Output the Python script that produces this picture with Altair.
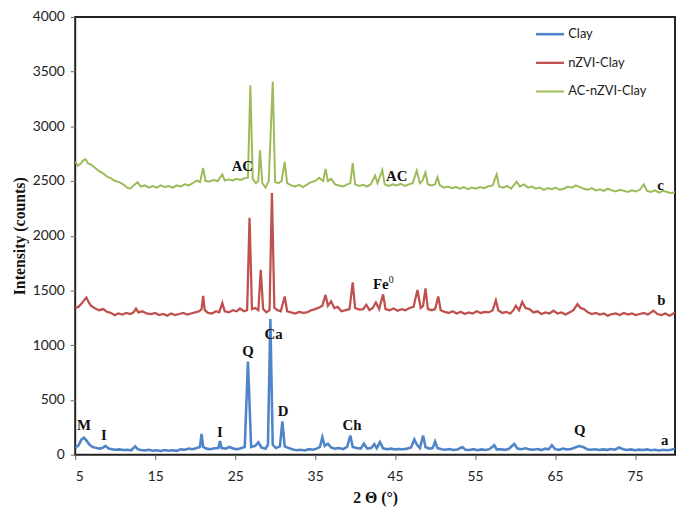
import altair as alt
import pandas as pd

series_names = ["Clay", "nZVI-Clay", "AC-nZVI-Clay"]
series_colors = ["#4f85c8", "#c0504d", "#9bbb59"]

clay_points = [
    (5.0, 60), (5.4, 85), (5.8, 140), (6.1, 155), (6.4, 130), (6.8, 90), (7.2, 70), (7.6, 62),
    (8.0, 55), (8.4, 60), (8.8, 80), (9.2, 55), (9.6, 50), (10.0, 45), (10.5, 48), (11.0, 42),
    (11.5, 45), (12.0, 40), (12.5, 75), (12.8, 50), (13.2, 42), (13.7, 38), (14.2, 44), (14.7, 36),
    (15.2, 40), (15.7, 34), (16.2, 42), (16.7, 36), (17.2, 40), (17.7, 35), (18.2, 48), (18.7, 45),
    (19.2, 55), (19.7, 50), (20.2, 60), (20.6, 70), (20.8, 190), (21.0, 70), (21.4, 55), (21.9, 50),
    (22.4, 58), (22.9, 60), (23.1, 125), (23.3, 60), (23.8, 55), (24.3, 70), (24.8, 55), (25.3, 50),
    (25.8, 60), (26.2, 70), (26.6, 850), (27.0, 70), (27.5, 80), (27.9, 112), (28.3, 65), (28.8, 55),
    (29.1, 90), (29.4, 1240), (29.7, 90), (30.1, 60), (30.6, 75), (30.9, 305), (31.2, 75), (31.7, 60),
    (32.2, 48), (32.7, 40), (33.2, 45), (33.7, 38), (34.2, 50), (34.7, 45), (35.2, 55), (35.6, 70),
    (35.9, 160), (36.2, 80), (36.6, 100), (37.0, 65), (37.5, 55), (38.0, 60), (38.5, 50), (39.0, 70),
    (39.4, 175), (39.7, 70), (40.2, 60), (40.7, 55), (41.1, 100), (41.5, 55), (42.0, 60), (42.4, 95),
    (42.7, 60), (43.1, 115), (43.5, 58), (44.0, 50), (44.5, 55), (45.0, 48), (45.5, 52), (46.0, 50),
    (46.5, 55), (47.0, 65), (47.4, 140), (47.7, 95), (48.1, 60), (48.5, 175), (48.8, 70), (49.3, 55),
    (49.7, 60), (50.0, 120), (50.3, 60), (50.8, 50), (51.3, 45), (51.8, 52), (52.3, 42), (52.8, 48),
    (53.4, 70), (53.8, 45), (54.3, 42), (54.8, 50), (55.3, 40), (55.8, 48), (56.3, 42), (56.8, 50),
    (57.4, 86), (57.7, 48), (58.2, 50), (58.7, 44), (59.2, 52), (59.9, 98), (60.3, 55), (60.8, 50),
    (61.3, 58), (61.8, 48), (62.3, 45), (62.8, 52), (63.3, 42), (63.8, 55), (64.2, 48), (64.6, 86),
    (65.0, 50), (65.5, 44), (66.0, 55), (66.5, 48), (67.0, 52), (67.5, 65), (68.0, 78), (68.5, 70),
    (69.0, 50), (69.5, 45), (70.0, 50), (70.5, 42), (71.0, 48), (71.5, 44), (72.0, 52), (72.5, 45),
    (73.0, 65), (73.5, 50), (74.0, 42), (74.5, 48), (75.0, 40), (75.5, 46), (76.0, 42), (76.5, 48),
    (77.0, 40), (77.5, 45), (78.0, 38), (78.5, 44), (79.0, 40), (79.5, 45), (80.0, 55),
]

nzvi_points = [
    (5.0, 1340), (5.4, 1350), (5.8, 1380), (6.1, 1410), (6.4, 1435), (6.7, 1390), (7.0, 1360), (7.5, 1335),
    (8.0, 1320), (8.5, 1330), (9.0, 1305), (9.5, 1295), (9.9, 1275), (10.4, 1290), (10.9, 1280), (11.4, 1295),
    (11.9, 1285), (12.3, 1300), (12.6, 1335), (12.9, 1300), (13.4, 1310), (13.9, 1290), (14.5, 1285), (15.0, 1295),
    (15.5, 1275), (16.0, 1285), (16.5, 1270), (17.0, 1290), (17.5, 1275), (18.0, 1285), (18.5, 1295), (19.0, 1280),
    (19.5, 1290), (20.0, 1300), (20.5, 1310), (20.8, 1330), (21.0, 1450), (21.2, 1320), (21.6, 1295), (22.1, 1290),
    (22.6, 1310), (23.0, 1300), (23.4, 1385), (23.7, 1310), (24.2, 1300), (24.7, 1320), (25.2, 1310), (25.6, 1335),
    (26.1, 1310), (26.5, 1320), (26.8, 2165), (27.1, 1330), (27.5, 1340), (27.9, 1320), (28.2, 1690), (28.5, 1330),
    (28.9, 1300), (29.3, 1320), (29.6, 2390), (29.9, 1340), (30.3, 1320), (30.7, 1310), (31.2, 1445), (31.5, 1310),
    (32.0, 1300), (32.5, 1290), (33.0, 1305), (33.5, 1295), (34.0, 1300), (34.5, 1320), (35.0, 1330), (35.5, 1345),
    (35.9, 1360), (36.3, 1460), (36.6, 1360), (37.0, 1400), (37.4, 1340), (37.8, 1350), (38.3, 1310), (38.8, 1320),
    (39.3, 1330), (39.7, 1575), (40.0, 1340), (40.5, 1325), (41.0, 1330), (41.4, 1370), (41.8, 1320), (42.2, 1340),
    (42.6, 1390), (43.0, 1330), (43.5, 1465), (43.8, 1330), (44.3, 1320), (44.8, 1335), (45.3, 1315), (45.8, 1330),
    (46.3, 1320), (46.8, 1340), (47.3, 1350), (47.8, 1505), (48.2, 1340), (48.5, 1360), (48.8, 1520), (49.1, 1330),
    (49.6, 1320), (50.0, 1330), (50.4, 1445), (50.7, 1320), (51.2, 1305), (51.7, 1295), (52.2, 1310), (52.7, 1290),
    (53.2, 1305), (53.7, 1285), (54.2, 1300), (54.7, 1290), (55.2, 1310), (55.7, 1295), (56.2, 1305), (56.7, 1300),
    (57.2, 1320), (57.6, 1410), (57.9, 1320), (58.4, 1295), (58.9, 1305), (59.4, 1290), (59.8, 1320), (60.1, 1360),
    (60.5, 1320), (60.9, 1395), (61.3, 1340), (61.8, 1330), (62.3, 1300), (62.8, 1310), (63.3, 1285), (63.8, 1300),
    (64.3, 1290), (64.8, 1315), (65.3, 1290), (65.8, 1300), (66.3, 1280), (66.8, 1300), (67.3, 1320), (67.8, 1375),
    (68.2, 1340), (68.6, 1330), (69.1, 1300), (69.6, 1285), (70.1, 1295), (70.6, 1280), (71.1, 1290), (71.6, 1270),
    (72.1, 1285), (72.6, 1290), (73.1, 1275), (73.6, 1295), (74.1, 1280), (74.6, 1290), (75.1, 1275), (75.6, 1285),
    (76.1, 1295), (76.6, 1280), (77.3, 1315), (77.8, 1285), (78.3, 1275), (78.8, 1290), (79.3, 1270), (79.7, 1285),
    (80.0, 1300),
]

ac_points = [
    (5.0, 2680), (5.3, 2640), (5.7, 2660), (6.0, 2690), (6.3, 2700), (6.6, 2660), (7.0, 2650), (7.5, 2620),
    (8.0, 2590), (8.5, 2570), (9.0, 2540), (9.5, 2525), (10.0, 2500), (10.5, 2490), (11.0, 2470), (11.5, 2440),
    (11.9, 2430), (12.3, 2460), (12.8, 2490), (13.2, 2450), (13.7, 2460), (14.2, 2440), (14.7, 2455), (15.2, 2440),
    (15.7, 2460), (16.2, 2445), (16.7, 2455), (17.2, 2440), (17.7, 2460), (18.2, 2450), (18.7, 2470), (19.2, 2460),
    (19.7, 2480), (20.2, 2505), (20.6, 2490), (21.0, 2620), (21.3, 2500), (21.8, 2495), (22.3, 2510), (22.8, 2500),
    (23.4, 2560), (23.7, 2505), (24.2, 2515), (24.7, 2505), (25.2, 2520), (25.7, 2510), (26.2, 2525), (26.6, 2530),
    (26.9, 3375), (27.2, 2520), (27.6, 2480), (27.9, 2500), (28.1, 2780), (28.4, 2480), (28.8, 2440), (29.2, 2500),
    (29.7, 3410), (30.0, 2490), (30.4, 2480), (30.8, 2500), (31.2, 2675), (31.5, 2480), (32.0, 2460), (32.5, 2450),
    (33.0, 2465), (33.5, 2445), (34.0, 2470), (34.5, 2490), (35.0, 2500), (35.5, 2530), (36.0, 2500), (36.3, 2610),
    (36.6, 2500), (37.0, 2520), (37.5, 2470), (38.0, 2460), (38.5, 2450), (39.0, 2470), (39.4, 2480), (39.7, 2665),
    (40.0, 2470), (40.5, 2455), (41.0, 2465), (41.5, 2450), (42.0, 2475), (42.5, 2550), (42.8, 2480), (43.4, 2600),
    (43.7, 2470), (44.2, 2455), (44.7, 2470), (45.2, 2460), (45.7, 2475), (46.2, 2455), (46.7, 2470), (47.2, 2480),
    (47.7, 2595), (48.1, 2480), (48.4, 2500), (48.8, 2580), (49.1, 2470), (49.6, 2460), (50.0, 2470), (50.3, 2535),
    (50.6, 2460), (51.1, 2440), (51.6, 2450), (52.1, 2435), (52.6, 2445), (53.1, 2430), (53.6, 2445), (54.1, 2425),
    (54.6, 2440), (55.1, 2430), (55.6, 2445), (56.1, 2435), (56.6, 2450), (57.2, 2460), (57.7, 2560), (58.0, 2450),
    (58.5, 2440), (59.0, 2455), (59.5, 2430), (60.2, 2495), (60.6, 2450), (61.1, 2470), (61.6, 2440), (62.1, 2450),
    (62.6, 2430), (63.1, 2440), (63.6, 2420), (64.1, 2435), (64.6, 2425), (65.1, 2440), (65.6, 2420), (66.1, 2430),
    (66.6, 2450), (67.1, 2440), (67.6, 2460), (68.1, 2445), (68.6, 2430), (69.1, 2420), (69.6, 2435), (70.1, 2415),
    (70.6, 2425), (71.1, 2410), (71.6, 2430), (72.1, 2415), (72.6, 2405), (73.1, 2420), (73.6, 2410), (74.1, 2400),
    (74.6, 2415), (75.1, 2405), (75.6, 2420), (76.1, 2470), (76.5, 2410), (77.0, 2400), (77.5, 2415), (78.0, 2395),
    (78.5, 2410), (79.0, 2400), (79.5, 2390), (80.0, 2400),
]

label_text = ["M", "I", "I", "Q", "Ca", "D", "Ch", "Q", "a", "b", "c", "AC", "AC", "Fe"]
label_x = [6.1, 8.6, 23.1, 26.6, 29.8, 31.0, 39.6, 68.1, 78.7, 78.3, 78.2, 25.9, 45.2, 43.2]
label_y = [270, 180, 205, 950, 1100, 400, 270, 225, 135, 1415, 2465, 2640, 2550, 1555]

sup_text = ["0"]
sup_x = [44.5]
sup_y = [1600]

x_ticks = [5, 15, 25, 35, 45, 55, 65, 75]
y_ticks = [0, 500, 1000, 1500, 2000, 2500, 3000, 3500, 4000]

rows = []
for name, pts in zip(series_names, [clay_points, nzvi_points, ac_points]):
    for x, y in pts:
        rows.append({"two_theta": x, "counts": y, "series": name})
df = pd.DataFrame(rows)

labels_df = pd.DataFrame({"t": label_text, "x": label_x, "y": label_y})
sup_df = pd.DataFrame({"t": sup_text, "x": sup_x, "y": sup_y})

xscale = alt.Scale(domain=[5, 80], nice=False, zero=False)
yscale = alt.Scale(domain=[0, 4000], nice=False)

lines = alt.Chart(df).mark_line(clip=True).encode(
    x=alt.X("two_theta:Q", scale=xscale,
            axis=alt.Axis(values=x_ticks, title="2 Θ (°)", grid=False, format="d")),
    y=alt.Y("counts:Q", scale=yscale,
            axis=alt.Axis(values=y_ticks, title="Intensity (counts)", grid=False, format="d")),
    color=alt.Color("series:N",
                    scale=alt.Scale(domain=series_names, range=series_colors),
                    sort=series_names,
                    legend=alt.Legend(title=None)),
    strokeWidth=alt.StrokeWidth("series:N",
                                scale=alt.Scale(domain=series_names, range=[2.6, 2.0, 2.0]),
                                legend=None),
)

text_layer = alt.Chart(labels_df).mark_text(
    font="Liberation Serif", fontWeight="bold", fontSize=15, color="#111", baseline="middle"
).encode(
    x=alt.X("x:Q", scale=xscale),
    y=alt.Y("y:Q", scale=yscale),
    text="t:N",
)

sup_layer = alt.Chart(sup_df).mark_text(
    font="Liberation Serif", fontWeight="normal", fontSize=10, color="#111", baseline="middle"
).encode(
    x=alt.X("x:Q", scale=xscale),
    y=alt.Y("y:Q", scale=yscale),
    text="t:N",
)

chart = alt.layer(lines, text_layer, sup_layer).properties(
    width=607,
    height=443,
    autosize=alt.AutoSizeParams(type="none"),
    padding={"left": 68, "top": 6, "right": 2, "bottom": 52},
).configure_view(
    stroke="#222", strokeWidth=2
).configure_axis(
    domain=False,
    tickColor="#666",
    tickSize=5,
    labelFont="Lato",
    labelFontSize=14,
    labelColor="#222",
    titleFont="Liberation Serif",
    titleFontWeight="bold",
    titleFontSize=16,
    titleColor="#111",
).configure_axisY(
    labelPadding=6,
    titlePadding=5,
).configure_axisX(
    labelPadding=10,
    titlePadding=6,
).configure_legend(
    orient="none",
    legendX=465,
    legendY=2,
    symbolType="stroke",
    symbolSize=800,
    symbolStrokeWidth=2.5,
    labelFont="Lato",
    labelFontSize=13,
    labelColor="#222",
    rowPadding=6,
    labelOffset=3,
)

chart.save("out.html", embed_options={"renderer": "svg", "actions": False})
